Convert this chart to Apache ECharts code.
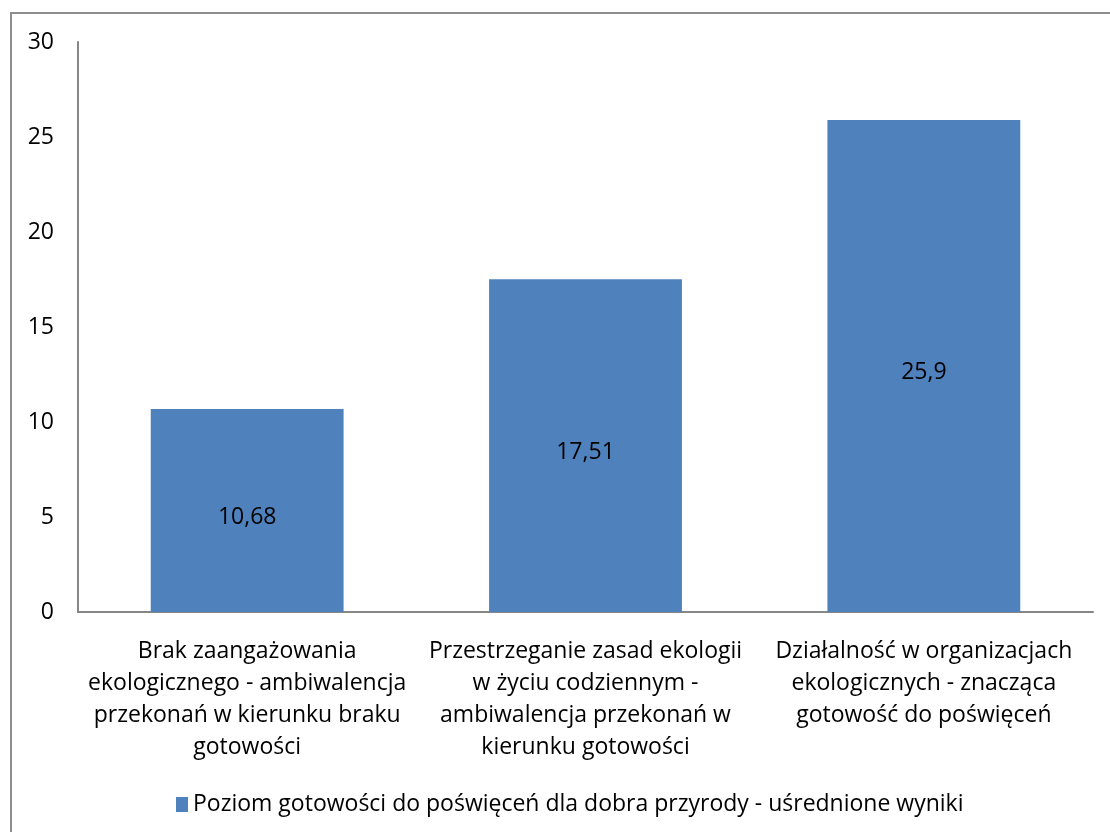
<!DOCTYPE html>
<html>
<head>
<meta charset="utf-8">
<script src="https://cdn.jsdelivr.net/npm/echarts@6/dist/echarts.min.js"></script>
<style>
  html, body { margin: 0; padding: 0; background: #ffffff; }
  #chart { width: 1110px; height: 832px; }
</style>
</head>
<body>
<div id="chart"></div>
<script>
// Category labels (line breaks as laid out under each bar)
const categories = [
  'Brak zaangażowania\nekologicznego - ambiwalencja\nprzekonań w kierunku braku\ngotowości',
  'Przestrzeganie zasad ekologii\nw życiu codziennym -\nambiwalencja przekonań w\nkierunku gotowości',
  'Działalność w organizacjach\nekologicznych - znacząca\ngotowość do poświęceń'
];
// Mean readiness level per group
const values = [10.68, 17.51, 25.9];
const seriesName = 'Poziom gotowości do poświęceń dla dobra przyrody - uśrednione wyniki';
const yTicks = { min: 0, max: 30, interval: 5 };

const FONT = 'Open Sans';
const FS = 23;
const chart = echarts.init(document.getElementById('chart'), null, { renderer: 'canvas' });

chart.setOption({
  backgroundColor: '#ffffff',
  animation: false,
  textStyle: { fontFamily: FONT },
  graphic: [{
    type: 'rect',
    shape: { x: 11, y: 13, width: 1200, height: 900 },
    style: { fill: 'none', stroke: '#8e8e8e', lineWidth: 2 },
    silent: true,
    z: -1
  }],
  grid: { left: 78, top: 42, width: 1015, height: 570, containLabel: false },
  legend: {
    data: [seriesName],
    left: 171,
    top: 788,
    icon: 'rect',
    itemWidth: 12,
    itemHeight: 15,
    textStyle: { fontFamily: FONT, fontSize: FS, color: '#000000', padding: [0, 0, 0, 0] }
  },
  xAxis: {
    type: 'category',
    data: categories,
    axisLine: { lineStyle: { color: '#868686', width: 2 } },
    axisTick: { show: false },
    axisLabel: {
      interval: 0,
      margin: 23,
      fontFamily: FONT,
      fontSize: FS,
      lineHeight: 32,
      color: '#000000',
      align: 'center'
    },
    splitLine: { show: false }
  },
  yAxis: {
    type: 'value',
    min: yTicks.min,
    max: yTicks.max,
    interval: yTicks.interval,
    axisLine: { show: true, lineStyle: { color: '#868686', width: 2 } },
    axisTick: { show: false },
    splitLine: { show: false },
    axisLabel: {
      margin: 24,
      fontFamily: FONT,
      fontSize: FS,
      color: '#000000',
      padding: [3, 0, 0, 0]
    }
  },
  series: [{
    name: seriesName,
    type: 'bar',
    data: values,
    barWidth: '57%',
    itemStyle: { color: '#4F81BD' },
    label: {
      show: true,
      position: 'inside',
      offset: [0, 7],
      fontFamily: FONT,
      fontSize: FS,
      color: '#000000',
      formatter: p => String(p.value).replace('.', ',')
    }
  }]
});
</script>
</body>
</html>
